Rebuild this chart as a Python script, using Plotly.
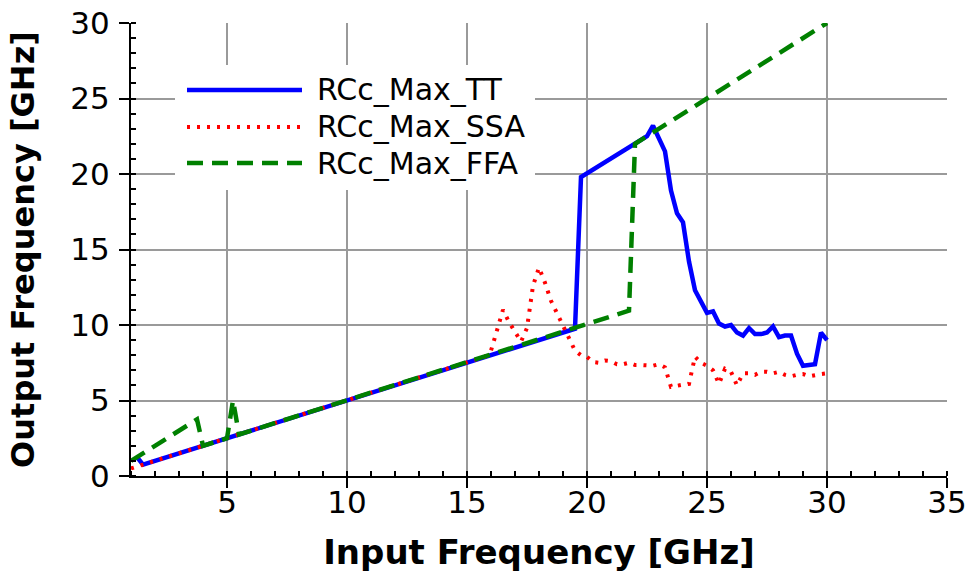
import plotly.graph_objects as go

# ---- data ----
tt_x = [1.25, 1.5, 19.5, 19.75, 22.5, 22.75, 23.25, 23.5, 23.75, 24.0, 24.25, 24.5,
        25.0, 25.25, 25.5, 25.75, 26.0, 26.25, 26.5, 26.75, 27.0, 27.25, 27.5, 27.75,
        28.0, 28.25, 28.5, 28.75, 29.0, 29.25, 29.5, 29.75, 30.0]
tt_y = [1.25, 0.75, 9.75, 19.8, 22.5, 23.2, 21.5, 18.9, 17.4, 16.8, 14.2, 12.3,
        10.8, 10.9, 10.1, 9.9, 10.0, 9.5, 9.3, 9.8, 9.4, 9.4, 9.5, 9.9,
        9.2, 9.3, 9.3, 8.1, 7.3, 7.35, 7.4, 9.5, 9.0]

ssa_x = [1.0, 15.75, 16.0, 16.25, 16.5, 16.75, 17.0, 17.25, 17.5, 17.75, 18.0, 18.25,
         18.5, 18.75, 19.0, 19.25, 19.5, 19.75, 20.0, 20.25, 20.5, 20.75, 21.0, 21.25,
         21.5, 21.75, 22.0, 22.25, 22.5, 22.75, 23.0, 23.25, 23.5, 23.75, 24.0, 24.25,
         24.5, 24.75, 25.0, 25.25, 25.5, 25.75, 26.0, 26.25, 26.5, 26.75, 27.0, 27.25,
         27.5, 27.75, 28.0, 28.25, 28.5, 28.75, 29.0, 29.25, 29.5, 29.75, 30.0]
ssa_y = [0.5, 7.9, 8.3, 9.6, 11.0, 10.2, 9.5, 8.9, 9.8, 12.6, 13.8, 12.8,
         11.6, 10.8, 10.0, 9.1, 8.3, 8.0, 7.9, 7.55, 7.5, 7.65, 7.6, 7.4,
         7.4, 7.5, 7.35, 7.35, 7.35, 7.3, 7.4, 7.2, 5.9, 6.0, 6.05, 6.1,
         7.9, 7.5, 7.3, 7.0, 6.1, 7.1, 6.9, 6.0, 6.8, 6.8, 6.7, 6.9,
         6.9, 6.8, 6.9, 6.7, 6.6, 6.7, 6.75, 6.6, 6.7, 6.75, 6.8]

ffa_x = [1.0, 3.75, 4.0, 5.0, 5.25, 5.5, 21.75, 22.0, 30.0]
ffa_y = [1.0, 3.75, 2.0, 2.5, 5.0, 2.75, 10.95, 22.0, 30.0]

names = ["RCc_Max_TT", "RCc_Max_SSA", "RCc_Max_FFA"]
colors = ["#0000ff", "#ff0000", "#008000"]
dashes = ["solid", "3px,7px", "16px,9px"]
widths = [4.5, 4, 4.5]

x_ticks = [5, 10, 15, 20, 25, 30, 35]
y_ticks = [0, 5, 10, 15, 20, 25, 30]

FONT = "DejaVu Sans"

fig = go.Figure()
for xs, ys, n, c, d, w in zip([tt_x, ssa_x, ffa_x], [tt_y, ssa_y, ffa_y], names, colors, dashes, widths):
    fig.add_trace(go.Scatter(x=xs, y=ys, mode="lines", name=n, showlegend=False,
                             line=dict(color=c, width=w, dash=d)))

axis_common = dict(
    showgrid=True, gridcolor="#9a9a9a", gridwidth=1.5,
    showline=True, linecolor="black", linewidth=2,
    ticks="outside", ticklen=10, tickwidth=1.5, tickcolor="black",
    tickfont=dict(family=FONT, size=31, color="black"),
    zeroline=False, automargin=False,
    minor=dict(ticks="inside", ticklen=5, tickwidth=1.5, tickcolor="black", dtick=1, showgrid=False),
)

fig.update_xaxes(range=[1, 35], tickvals=x_ticks, ticktext=[str(v) for v in x_ticks],
                 ticklabelstandoff=-12,
                 title=dict(text="<b>Input Frequency [GHz]</b>", font=dict(family=FONT, size=34, color="black"), standoff=22),
                 **axis_common)
fig.update_yaxes(range=[0, 30], tickvals=y_ticks, ticktext=[str(v) for v in y_ticks],
                 ticklabelstandoff=3,
                 title=dict(text="<b>Output Frequency [GHz]</b>", font=dict(family=FONT, size=32, color="black"), standoff=26),
                 **axis_common)

# ---- custom legend (white box covering the grid, long line samples) ----
L, R, T, B = 131, 947, 23, 476
pw, ph = R - L, B - T
def px(x):
    return (x - L) / pw
def py(y):
    return (B - y) / ph

shapes = [dict(type="rect", xref="paper", yref="paper", x0=px(175), x1=px(535), y0=py(190), y1=py(65),
               fillcolor="white", line=dict(width=0), layer="above")]
annotations = []
rows = [90, 127, 163]
for n, c, d, w, r in zip(names, colors, dashes, widths, rows):
    shapes.append(dict(type="line", xref="paper", yref="paper", x0=px(187), x1=px(302), y0=py(r), y1=py(r),
                       line=dict(color=c, width=w, dash=d), layer="above"))
    annotations.append(dict(xref="paper", yref="paper", x=px(315), y=py(r), text=n, showarrow=False,
                            xanchor="left", yanchor="middle", font=dict(family=FONT, size=30, color="black")))

fig.update_layout(
    width=971, height=572,
    margin=dict(l=L, r=971 - R, t=T, b=572 - B),
    paper_bgcolor="white", plot_bgcolor="white",
    shapes=shapes, annotations=annotations,
    font=dict(family=FONT, color="black"),
)

fig.write_html("out.html", config={"displayModeBar": False},
               post_script="document.body.style.margin='0';document.body.style.overflow='hidden';")
